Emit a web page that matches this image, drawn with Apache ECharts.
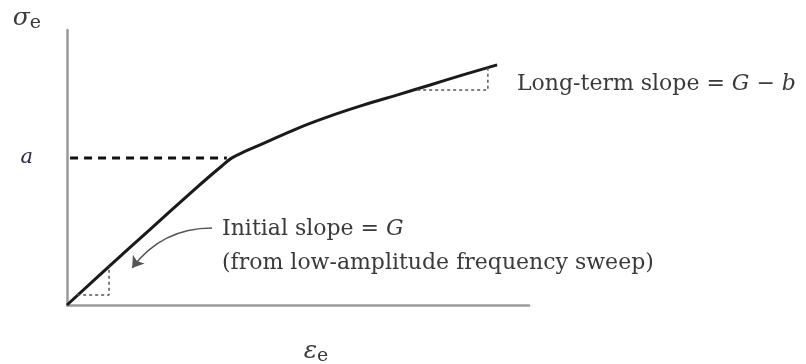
<!DOCTYPE html>
<html><head><meta charset="utf-8">
<script src="https://cdn.jsdelivr.net/npm/echarts@6/dist/echarts.min.js"></script>
<style>html,body{margin:0;padding:0;background:#fff}#c{width:806px;height:364px}</style>
</head><body><div id="c"></div>
<script>
// Conceptual stress–strain curve (axis units arbitrary: x 0..100, y 0..60)
const strainVals = [0, 9.3, 18.0, 26.6, 31.0, 33.6, 35.7, 38.5, 42.4, 49.8, 56.9, 64.1, 71.4, 78.6, 85.7, 93.1];
const stressVals = [0, 8.6, 16.5, 24.3, 28.2, 30.4, 32.1, 33.5, 35.2, 38.5, 41.2, 43.6, 45.8, 48.0, 50.2, 52.4];
const aLevel = 32.1;
const aLineX = [-5.4, 34.6];
const initTriX = [2.2, 9.1, 9.1];
const initTriY = [2.2, 2.2, 8.5];
const longTriX = [75.8, 91.1, 91.1];
const longTriY = [46.9, 46.9, 51.9];
const arrowFrom = [31.4, 16.8];
const arrowTo = [14.1, 8.1];
const tickLabels = {a: 'a'};

const curve = strainVals.map((x, i) => [x, stressVals[i]]);
const aLine = aLineX.map(x => [x, aLevel]);
const initTri = initTriX.map((x, i) => [x, initTriY[i]]);
const longTri = longTriX.map((x, i) => [x, longTriY[i]]);

const serif = "'DejaVu Serif', 'Liberation Serif', serif";
const txt = '#3a3a3a';
const chart = echarts.init(document.getElementById('c'));
chart.setOption({
  animation: false,
  backgroundColor: '#fff',
  grid: {left: 67, right: 277, top: 30, bottom: 59, outerBoundsMode: 'none', containLabel: false},
  xAxis: {
    type: 'value', min: 0, max: 100,
    axisLine: {show: true, lineStyle: {color: '#9a9a9a', width: 2.5}},
    axisTick: {show: false}, axisLabel: {show: false}, splitLine: {show: false},
    name: '{s|ε}{e|e}', nameLocation: 'middle', nameGap: 46,
    nameTextStyle: {verticalAlign: 'middle', padding: [0, 0, 0, 36], rich: {
      s: {fontFamily: serif, fontStyle: 'italic', fontSize: 25, color: txt, lineHeight: 30, verticalAlign: 'middle'},
      e: {fontFamily: serif, fontSize: 19, color: txt, lineHeight: 30, verticalAlign: 'bottom'}
    }}
  },
  yAxis: {
    type: 'value', min: 0, max: 60, interval: aLevel,
    axisLine: {show: true, lineStyle: {color: '#9a9a9a', width: 2.5}},
    axisTick: {show: false}, splitLine: {show: false},
    axisLabel: {margin: 34, fontFamily: serif, fontStyle: 'italic', fontSize: 21, color: '#2a2a44',
      formatter: v => (Math.abs(v - aLevel) < 1e-6 ? tickLabels.a : '')},
    name: '{s|σ}{e|e}', nameLocation: 'end', nameGap: 12,
    nameTextStyle: {align: 'right', verticalAlign: 'middle', padding: [0, 26, 0, 0], rich: {
      s: {fontFamily: serif, fontStyle: 'italic', fontSize: 25, color: txt, lineHeight: 30, verticalAlign: 'middle'},
      e: {fontFamily: serif, fontSize: 19, color: txt, lineHeight: 30, verticalAlign: 'bottom'}
    }}
  },
  series: [
    {type: 'line', data: curve, smooth: 0.4, showSymbol: false, clip: false,
     lineStyle: {color: '#1a1a1a', width: 3}},
    {type: 'line', data: aLine, showSymbol: false, clip: false,
     lineStyle: {color: '#111', width: 3, type: [8, 6]}},
    {type: 'line', data: initTri, showSymbol: false, clip: false,
     lineStyle: {color: '#555', width: 1.5, type: [3, 3]}},
    {type: 'line', data: longTri, showSymbol: false, clip: false,
     lineStyle: {color: '#555', width: 1.5, type: [3, 3]}},
    {type: 'lines', coordinateSystem: 'cartesian2d', symbol: ['none', 'arrow'], symbolSize: 11,
     data: [{coords: [arrowFrom, arrowTo]}],
     lineStyle: {color: '#555', width: 1.6, curveness: -0.25, opacity: 1}}
  ],
  graphic: [
    {type: 'text', left: 517, top: 73, style: {
      text: 'Long-term slope = {i|G} − {i|b}', font: '22px ' + serif, fill: txt,
      rich: {i: {fontFamily: serif, fontStyle: 'italic', fontSize: 22, fill: txt}}}},
    {type: 'text', left: 222, top: 212, style: {
      text: 'Initial slope = {i|G}\n(from low-amplitude frequency sweep)', font: '22px ' + serif, fill: txt,
      lineHeight: 34,
      rich: {i: {fontFamily: serif, fontStyle: 'italic', fontSize: 22, fill: txt, lineHeight: 34}}}}
  ]
});
</script></body></html>
